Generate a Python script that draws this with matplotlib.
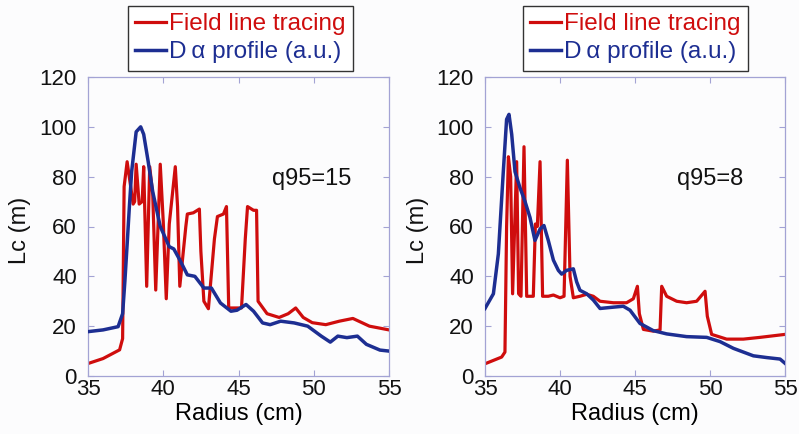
import matplotlib
matplotlib.use("Agg")
import matplotlib.pyplot as plt

# ---- Data ----
left_red_x = [35.0, 36.0, 37.1, 37.3, 37.4, 37.6, 38.0, 38.1, 38.2, 38.4, 38.6, 38.7, 38.9, 39.1, 39.3,
              39.5, 39.8, 40.0, 40.2, 40.4, 40.8, 40.95, 41.1, 41.5, 41.6, 42.0, 42.4, 42.5, 42.7, 43.0,
              43.4, 43.6, 44.0, 44.2, 44.35, 45.2, 45.45, 45.6, 46.0, 46.2, 46.3, 46.9, 47.7, 48.3, 48.8,
              49.3, 49.9, 50.8, 51.7, 52.6, 53.7, 55.0]
left_red_y = [5, 7, 10.5, 15, 76, 86, 69, 70, 85, 69, 70, 84, 36, 84, 73,
              34.5, 85, 62, 31, 61, 84, 68, 36, 60, 65, 65.5, 67, 50, 30, 27,
              55, 64, 65, 68, 27.3, 27.3, 55, 68, 66.5, 66.5, 30, 25, 23.5, 25, 27.3,
              23.5, 21.4, 20.6, 22, 23.1, 20, 18.5]

left_blue_x = [35.0, 36.0, 37.0, 37.3, 37.45, 37.6, 37.75, 37.9, 38.2, 38.5, 38.7, 39.0, 39.3, 39.8,
               40.4, 40.7, 41.1, 41.6, 42.1, 42.7, 43.2, 43.8, 44.5, 44.9, 45.5, 46.0, 46.6, 47.1,
               47.8, 48.7, 49.6, 50.5, 51.1, 51.6, 52.2, 52.9, 53.5, 54.4, 55.0]
left_blue_y = [17.8, 18.5, 19.8, 25, 38, 52.8, 68, 82, 98, 100, 97, 86, 74, 60,
               51.9, 51, 46.6, 40.6, 40, 35.3, 35.3, 29.3, 26, 26.4, 28.7, 26, 21.3, 20.6,
               22, 21.3, 20, 16, 13.6, 16, 15.4, 16, 12.7, 10.4, 10]

right_red_x = [35.0, 36.11, 36.33, 36.44, 36.56, 36.71, 36.84, 37.11, 37.24, 37.40, 37.60, 37.78,
               38.22, 38.36, 38.49, 38.67, 38.84, 39.22, 39.56, 40.0, 40.27, 40.49, 40.67, 40.89,
               41.33, 41.78, 42.22, 42.67, 43.56, 44.44, 44.89, 45.16, 45.29, 45.56, 46.22, 46.67,
               46.78, 47.11, 47.78, 48.44, 49.11, 49.67, 49.82, 50.11, 51.11, 52.22, 53.33, 55.0]
right_red_y = [4.9, 7.6, 9.6, 60, 88, 80, 33, 86, 33, 32, 92, 32,
               32, 61, 60, 86, 32, 32, 32.5, 31.4, 32, 86.6, 40, 31.4,
               32, 32.8, 32, 30, 29.4, 29.4, 31, 36, 25, 18.7, 18, 18.5,
               36, 32, 30, 29.4, 30, 34, 24, 16.7, 14.8, 14.8, 15.5, 16.7]

right_blue_x = [35.0, 35.56, 35.89, 36.22, 36.44, 36.6, 36.78, 37.0, 37.33, 37.67, 38.0, 38.33,
                38.67, 38.93, 39.22, 39.56, 39.89, 40.11, 40.44, 40.89, 41.11, 41.33, 41.78, 42.22,
                42.67, 43.33, 44.22, 44.67, 45.33, 46.22, 47.11, 48.44, 49.78, 50.67, 51.56, 52.89,
                53.78, 54.67, 55.0]
right_blue_y = [27.1, 33, 49, 82, 103, 105, 97, 82, 75.6, 70, 63.6, 54.4,
                59, 60.4, 54.4, 46.5, 42.4, 40.9, 42.4, 43, 37.8, 34.4, 33, 30.5,
                27.1, 27.5, 28, 26.4, 21.1, 18.2, 16.9, 15.8, 15.5, 13.8, 11.1, 8.1,
                7.4, 6.8, 5.1]

x_ticks = [35, 40, 45, 50, 55]
y_ticks = [0, 20, 40, 60, 80, 100, 120]
labels = ["Field line tracing", "D\u2009\u03b1 profile (a.u.)"]
annotations = ["q95=15", "q95=8"]
xlabel = "Radius (cm)"
ylabel = "Lc (m)"

RED = "#cf0d0d"
BLUE = "#1d2e92"
SPINE = "#a3a3d4"
BG = "#fcfcfd"

plt.rcParams["font.family"] = ["Liberation Sans", "DejaVu Sans"]

fig = plt.figure(figsize=(7.99, 4.34), dpi=100, facecolor=BG)

positions = [[88 / 799, 58 / 434, 301 / 799, 299 / 434],
             [485 / 799, 58 / 434, 300 / 799, 299 / 434]]
legend_anchor = [(128 / 799, 1 - 6 / 434), (523 / 799, 1 - 6 / 434)]
ann_pos = [(47.2, 79), (47.8, 79)]
ylabel_x = [20 / 799, 418 / 799]

datasets = [(left_red_x, left_red_y, left_blue_x, left_blue_y),
            (right_red_x, right_red_y, right_blue_x, right_blue_y)]

for i, (rx, ry, bx, by) in enumerate(datasets):
    ax = fig.add_axes(positions[i])
    ax.set_facecolor(BG)
    l1, = ax.plot(rx, ry, color=RED, lw=2.3, label=labels[0], zorder=2)
    l2, = ax.plot(bx, by, color=BLUE, lw=2.5, label=labels[1], zorder=3)
    ax.set_xlim(35, 55)
    ax.set_ylim(0, 120)
    ax.set_xticks(x_ticks)
    ax.set_yticks(y_ticks)
    for s in ax.spines.values():
        s.set_color(SPINE)
        s.set_linewidth(0.9)
    ax.tick_params(direction="in", top=True, right=True, length=4, color=SPINE,
                   labelsize=16, labelcolor="#111111")
    ax.tick_params(axis="y", pad=8)
    ax.tick_params(axis="x", pad=2)
    ax.set_xlabel(xlabel, fontsize=17, labelpad=2)
    ax.text(ann_pos[i][0], ann_pos[i][1], annotations[i], fontsize=17, va="center",
            ha="left", color="#111111")
    fig.text(ylabel_x[i], 1 - 230 / 434, ylabel, rotation=90,
             fontsize=17, va="center", ha="center", color="#111111")
    leg = ax.legend(handles=[l1, l2], loc="upper left",
                    bbox_to_anchor=legend_anchor[i], bbox_transform=fig.transFigure,
                    borderaxespad=0, fontsize=17.5, handlelength=1.25, handletextpad=0.15,
                    borderpad=0.3, labelspacing=0.25, fancybox=False, framealpha=1,
                    edgecolor="#333333", labelcolor="linecolor")
    leg.get_frame().set_linewidth(1.0)
    leg.get_frame().set_facecolor("white")

fig.savefig("out.png", dpi=100, facecolor=BG)
